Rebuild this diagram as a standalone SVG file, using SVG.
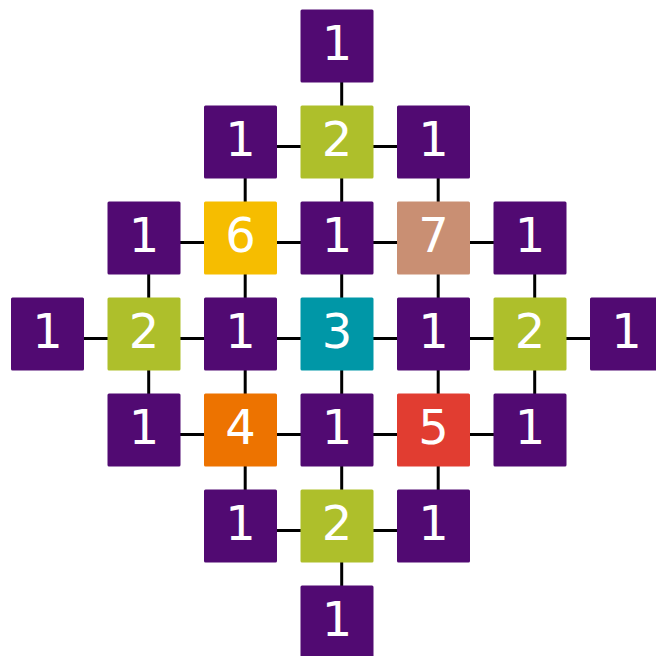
<svg xmlns="http://www.w3.org/2000/svg" width="656" height="656" viewBox="0 0 656 656">
<style>
.n rect{width:73px;height:73px;rx:1.5px}
.t{font-family:"DejaVu Sans",sans-serif;font-size:48px;fill:#fff;text-anchor:middle}
.p{fill:#510a72}.g{fill:#aebf2b}.y{fill:#f6bd00}.b{fill:#c98f73}.c{fill:#0097a7}.o{fill:#ed7300}.r{fill:#e13d31}
#edges line{stroke:#000;stroke-width:3}
</style>
<rect width="656" height="656" fill="#fff"/>
<g id="edges">
<line x1="341.7" y1="50.6" x2="341.7" y2="626.6"/>
<line x1="245.2" y1="146.6" x2="245.2" y2="530.6"/>
<line x1="438.2" y1="146.6" x2="438.2" y2="530.6"/>
<line x1="148.7" y1="242.6" x2="148.7" y2="434.6"/>
<line x1="534.7" y1="242.6" x2="534.7" y2="434.6"/>
<line x1="245.2" y1="146.6" x2="438.2" y2="146.6"/>
<line x1="148.7" y1="242.6" x2="534.7" y2="242.6"/>
<line x1="52.2" y1="338.6" x2="631.2" y2="338.6"/>
<line x1="148.7" y1="434.6" x2="534.7" y2="434.6"/>
<line x1="245.2" y1="530.6" x2="438.2" y2="530.6"/>
</g>
<g id="n03" class="n"><rect class="p" x="300.5" y="9.5"/><text class="t" x="337" y="60">1</text></g>
<g id="n12" class="n"><rect class="p" x="204" y="105.5"/><text class="t" x="240.5" y="156">1</text></g>
<g id="n13" class="n"><rect class="g" x="300.5" y="105.5"/><text class="t" x="337" y="156">2</text></g>
<g id="n14" class="n"><rect class="p" x="397" y="105.5"/><text class="t" x="433.5" y="156">1</text></g>
<g id="n21" class="n"><rect class="p" x="107.5" y="201.5"/><text class="t" x="144" y="252">1</text></g>
<g id="n22" class="n"><rect class="y" x="204" y="201.5"/><text class="t" x="240.5" y="252">6</text></g>
<g id="n23" class="n"><rect class="p" x="300.5" y="201.5"/><text class="t" x="337" y="252">1</text></g>
<g id="n24" class="n"><rect class="b" x="397" y="201.5"/><text class="t" x="433.5" y="252">7</text></g>
<g id="n25" class="n"><rect class="p" x="493.5" y="201.5"/><text class="t" x="530" y="252">1</text></g>
<g id="n30" class="n"><rect class="p" x="11" y="297.5"/><text class="t" x="47.5" y="348">1</text></g>
<g id="n31" class="n"><rect class="g" x="107.5" y="297.5"/><text class="t" x="144" y="348">2</text></g>
<g id="n32" class="n"><rect class="p" x="204" y="297.5"/><text class="t" x="240.5" y="348">1</text></g>
<g id="n33" class="n"><rect class="c" x="300.5" y="297.5"/><text class="t" x="337" y="348">3</text></g>
<g id="n34" class="n"><rect class="p" x="397" y="297.5"/><text class="t" x="433.5" y="348">1</text></g>
<g id="n35" class="n"><rect class="g" x="493.5" y="297.5"/><text class="t" x="530" y="348">2</text></g>
<g id="n36" class="n"><rect class="p" x="590" y="297.5"/><text class="t" x="626.5" y="348">1</text></g>
<g id="n41" class="n"><rect class="p" x="107.5" y="393.5"/><text class="t" x="144" y="444">1</text></g>
<g id="n42" class="n"><rect class="o" x="204" y="393.5"/><text class="t" x="240.5" y="444">4</text></g>
<g id="n43" class="n"><rect class="p" x="300.5" y="393.5"/><text class="t" x="337" y="444">1</text></g>
<g id="n44" class="n"><rect class="r" x="397" y="393.5"/><text class="t" x="433.5" y="444">5</text></g>
<g id="n45" class="n"><rect class="p" x="493.5" y="393.5"/><text class="t" x="530" y="444">1</text></g>
<g id="n52" class="n"><rect class="p" x="204" y="489.5"/><text class="t" x="240.5" y="540">1</text></g>
<g id="n53" class="n"><rect class="g" x="300.5" y="489.5"/><text class="t" x="337" y="540">2</text></g>
<g id="n54" class="n"><rect class="p" x="397" y="489.5"/><text class="t" x="433.5" y="540">1</text></g>
<g id="n63" class="n"><rect class="p" x="300.5" y="585.5"/><text class="t" x="337" y="636">1</text></g>
</svg>
